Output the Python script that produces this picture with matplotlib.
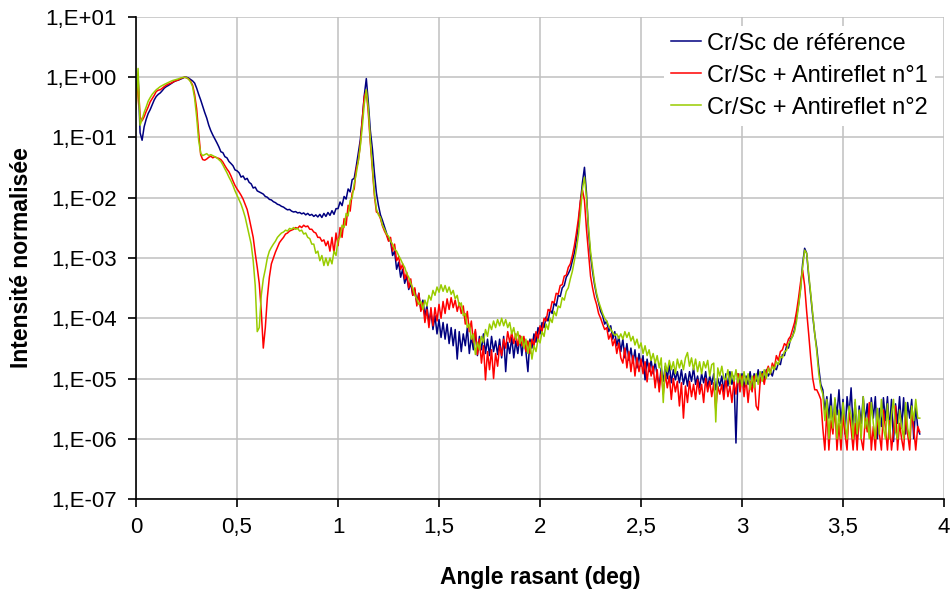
import matplotlib.pyplot as plt
import numpy as np
from matplotlib.ticker import FixedLocator, FuncFormatter, NullLocator

# Scan step of the grazing angle [deg], first point at 0
angle_step = 0.01

# Normalised reflected intensity, one row per 0.1 deg
reference = [
    0.6, 1.1, 0.12, 0.09, 0.15, 0.2, 0.25, 0.29, 0.35, 0.42,
    0.48, 0.52, 0.55, 0.6, 0.66, 0.7, 0.73, 0.77, 0.81, 0.85,
    0.88, 0.9, 0.93, 0.96, 1.0, 1.0, 0.97, 0.92, 0.87, 0.8,
    0.66, 0.52, 0.42, 0.33, 0.26, 0.21, 0.16, 0.13, 0.11, 0.095,
    0.082, 0.07, 0.058, 0.056, 0.048, 0.046, 0.04, 0.037, 0.034, 0.029,
    0.028, 0.026, 0.022, 0.023, 0.02, 0.021, 0.018, 0.017, 0.0145, 0.015,
    0.013, 0.0125, 0.012, 0.0115, 0.0105, 0.0102, 0.0094, 0.0092, 0.0086, 0.0083,
    0.0078, 0.0076, 0.0072, 0.007, 0.0066, 0.0063, 0.0064, 0.006, 0.0058, 0.0059,
    0.0056, 0.0057, 0.0054, 0.0056, 0.0052, 0.0055, 0.0051, 0.0053, 0.0049, 0.0052,
    0.0048, 0.0053, 0.0047, 0.0055, 0.0049, 0.0057, 0.0051, 0.0061, 0.0053, 0.0066,
    0.0066, 0.0085, 0.0074, 0.0105, 0.0095, 0.014, 0.0125, 0.02, 0.021, 0.033,
    0.055, 0.09, 0.2, 0.5, 0.95, 0.38, 0.13, 0.065, 0.026, 0.012,
    0.0075, 0.0052, 0.0042, 0.0033, 0.0026, 0.002, 0.0019, 0.0011, 0.0013, 6.5e-4,
    8.5e-4, 4.8e-4, 6.5e-4, 3.8e-4, 5e-4, 3e-4, 3.8e-4, 2.4e-4, 3e-4, 1.8e-4,
    2.6e-4, 1.4e-4, 2e-4, 1.1e-4, 1.6e-4, 8.5e-5, 1.3e-4, 6.5e-5, 1.1e-4, 5.5e-5,
    9.5e-5, 4.8e-5, 8.5e-5, 4.5e-5, 8e-5, 3.8e-5, 7e-5, 3.5e-5, 6.5e-5, 2.1e-5,
    6e-5, 2.8e-5, 5.5e-5, 3.5e-5, 7e-5, 2.6e-5, 5e-5, 3e-5, 6e-5, 2.4e-5,
    5e-5, 3e-5, 5.5e-5, 2.6e-5, 4.5e-5, 2.4e-5, 5e-5, 2.8e-5, 4.2e-5, 2.5e-5,
    4.5e-5, 2.2e-5, 5e-5, 1.3e-5, 4e-5, 2.6e-5, 4.8e-5, 2.2e-5, 4.2e-5, 2.6e-5,
    5e-5, 2.4e-5, 4.6e-5, 2.8e-5, 1.3e-5, 4.5e-5, 3.2e-5, 5.5e-5, 4e-5, 7e-5,
    5.5e-5, 8.5e-5, 7e-5, 1.05e-4, 9e-5, 1.4e-4, 1.2e-4, 1.8e-4, 1.6e-4, 2.4e-4,
    2.3e-4, 3.2e-4, 3.5e-4, 4.8e-4, 5.5e-4, 6.5e-4, 9e-4, 1.2e-3, 2e-3, 3.5e-3,
    8.5e-3, 0.018, 0.032, 0.012, 2.8e-3, 1.1e-3, 6e-4, 3.6e-4, 2.4e-4, 1.8e-4,
    1.3e-4, 1.1e-4, 8e-5, 9e-5, 6e-5, 7.5e-5, 4.5e-5, 6e-5, 3.5e-5, 5e-5,
    2.8e-5, 4.5e-5, 2.2e-5, 3.8e-5, 2e-5, 3.2e-5, 1.8e-5, 3e-5, 1.5e-5, 2.6e-5,
    1.6e-5, 2.4e-5, 9.5e-6, 2.1e-5, 1.3e-5, 2e-5, 1.2e-5, 1.9e-5, 1.1e-5, 7.5e-6,
    1.5e-5, 9e-6, 1.6e-5, 1e-5, 1.7e-5, 8.5e-6, 1.4e-5, 9.5e-6, 1.3e-5, 8.5e-6,
    1.4e-5, 8e-6, 1.2e-5, 7.5e-6, 1.3e-5, 9e-6, 1.5e-5, 8e-6, 1.1e-5, 7e-6,
    1.2e-5, 8.5e-6, 1.3e-5, 7e-6, 1.1e-5, 8e-6, 1.2e-5, 6.5e-6, 1e-5, 7.5e-6,
    1.1e-5, 6e-6, 1.2e-5, 7.5e-6, 1.3e-5, 8e-6, 1.1e-5, 8.5e-7, 1.2e-5, 8e-6,
    1.2e-5, 7e-6, 1.1e-5, 8e-6, 1.3e-5, 7.5e-6, 1.2e-5, 9e-6, 1.4e-5, 8.5e-6,
    1.3e-5, 9.5e-6, 1.4e-5, 1.1e-5, 1.3e-5, 1.1e-5, 1.5e-5, 1.4e-5, 1.8e-5, 1.7e-5,
    2.5e-5, 2.4e-5, 3.4e-5, 3.2e-5, 4.5e-5, 5e-5, 6.5e-5, 1.05e-4, 1.7e-4, 3.2e-4,
    8e-4, 1.45e-3, 1.2e-3, 5e-4, 2.4e-4, 1.1e-4, 5.5e-5, 3.2e-5, 1.5e-5, 8e-6,
    6.5e-6, 3e-6, 5e-6, 2.2e-6, 5.5e-6, 1.5e-6, 4.5e-6, 2.5e-6, 6.5e-6, 1.8e-6,
    4.5e-6, 1.2e-6, 5e-6, 2.5e-6, 7e-6, 1.6e-6, 4e-6, 9e-7, 3.5e-6, 1.8e-6,
    5e-6, 2e-6, 3.8e-6, 1.2e-6, 4.8e-6, 2.2e-6, 5e-6, 1e-6, 3.2e-6, 1.6e-6,
    4.8e-6, 2e-6, 5e-6, 1.4e-6, 4.5e-6, 9e-7, 3.8e-6, 1.8e-6, 5e-6, 1.5e-6,
    4.8e-6, 1.2e-6, 4e-6, 2.2e-6, 4.5e-6, 1e-6, 3.5e-6, 1.5e-6, 1.2e-6,
]

antireflet_1 = [
    0.3, 0.9, 0.22, 0.19, 0.22, 0.27, 0.32, 0.39, 0.44, 0.5,
    0.58, 0.61, 0.62, 0.66, 0.7, 0.74, 0.77, 0.79, 0.82, 0.86,
    0.88, 0.9, 0.95, 0.98, 1.0, 0.98, 0.94, 0.86, 0.74, 0.52,
    0.3, 0.12, 0.052, 0.043, 0.042, 0.044, 0.047, 0.049, 0.046, 0.048,
    0.046, 0.045, 0.043, 0.039, 0.034, 0.03, 0.027, 0.023, 0.019, 0.016,
    0.014, 0.0125, 0.011, 0.0095, 0.0078, 0.0064, 0.0046, 0.0032, 0.0022, 0.0012,
    7e-4, 3.8e-4, 1.3e-4, 3.2e-5, 7e-5, 2.2e-4, 4.8e-4, 8e-4, 1e-3, 1.25e-3,
    1.5e-3, 1.8e-3, 2e-3, 2.2e-3, 2.5e-3, 2.6e-3, 2.8e-3, 2.9e-3, 3e-3, 3.2e-3,
    3.1e-3, 3.4e-3, 3.2e-3, 3.5e-3, 3.3e-3, 3.4e-3, 3e-3, 3e-3, 2.7e-3, 2.6e-3,
    2.2e-3, 2.2e-3, 1.9e-3, 2e-3, 1.6e-3, 1.9e-3, 1.3e-3, 2.2e-3, 1.2e-3, 2.6e-3,
    1.6e-3, 3.2e-3, 2.2e-3, 4.5e-3, 3.5e-3, 7.5e-3, 6e-3, 0.012, 0.014, 0.03,
    0.04, 0.075, 0.2, 0.48, 0.6, 0.25, 0.08, 0.03, 0.011, 0.0058,
    0.0055, 0.0045, 0.0034, 0.0028, 0.0024, 0.0019, 0.0022, 0.0013, 0.0017, 9e-4,
    1.05e-3, 6.5e-4, 8e-4, 4.5e-4, 5.8e-4, 3.2e-4, 4.5e-4, 2.4e-4, 3.2e-4, 1.6e-4,
    2.6e-4, 1.3e-4, 1.8e-4, 8.5e-5, 1.4e-4, 7e-5, 1.5e-4, 7.5e-5, 1.5e-4, 9e-5,
    1.7e-4, 1e-4, 1.9e-4, 1.2e-4, 2.1e-4, 1.4e-4, 2.2e-4, 1.5e-4, 2e-4, 1.3e-4,
    1.8e-4, 1.2e-4, 1.6e-4, 8e-5, 1.3e-4, 6e-5, 9e-5, 4e-5, 6.5e-5, 2.5e-5,
    4.5e-5, 1.8e-5, 3.5e-5, 9.5e-6, 2.8e-5, 1.4e-5, 3e-5, 1e-5, 2.6e-5, 1.6e-5,
    3.5e-5, 2.4e-5, 4.5e-5, 3.2e-5, 6e-5, 4e-5, 5.8e-5, 3.8e-5, 5.5e-5, 3.5e-5,
    5.2e-5, 3.5e-5, 5e-5, 2.8e-5, 4.2e-5, 2.6e-5, 4.5e-5, 3.5e-5, 6e-5, 4.5e-5,
    7.5e-5, 6e-5, 1e-4, 9e-5, 1.4e-4, 1.3e-4, 1.9e-4, 1.8e-4, 2.6e-4, 2.5e-4,
    3.5e-4, 3.6e-4, 5e-4, 5.2e-4, 7e-4, 8e-4, 1.1e-3, 1.6e-3, 2.6e-3, 4.5e-3,
    9e-3, 0.0135, 9e-3, 3e-3, 1.2e-3, 5e-4, 3.2e-4, 2.2e-4, 1.7e-4, 1.2e-4,
    1e-4, 8e-5, 6.5e-5, 7e-5, 4.5e-5, 5.5e-5, 3.5e-5, 4.5e-5, 2.6e-5, 3.9e-5,
    2.2e-5, 1.8e-5, 3.2e-5, 1.5e-5, 2.8e-5, 1.3e-5, 2.4e-5, 1.1e-5, 2.2e-5, 1.3e-5,
    2.1e-5, 1.2e-5, 1.9e-5, 8.8e-6, 1.8e-5, 1.1e-5, 1.6e-5, 7e-6, 1.4e-5, 6e-6,
    1.3e-5, 5.5e-6, 1.2e-5, 7e-6, 1.1e-5, 4.5e-6, 1e-5, 6e-6, 9e-6, 3.5e-6,
    8.5e-6, 2.2e-6, 7.5e-6, 4e-6, 9e-6, 5e-6, 8e-6, 4.5e-6, 9.5e-6, 5.5e-6,
    8e-6, 4e-6, 1e-5, 6e-6, 9e-6, 5e-6, 8.5e-6, 3e-6, 7.5e-6, 5.5e-6,
    8e-6, 4.5e-6, 1e-5, 5e-6, 7.5e-6, 4e-6, 9e-6, 5.5e-6, 1.2e-5, 6e-6,
    1.1e-5, 5e-6, 1e-5, 4e-6, 9e-6, 6e-6, 1.1e-5, 3.5e-6, 3e-6, 9e-6,
    1.2e-5, 8e-6, 1.3e-5, 1.6e-5, 1.2e-5, 1.8e-5, 1.5e-5, 2.4e-5, 2e-5, 2.8e-5,
    3e-5, 3.8e-5, 3.5e-5, 4.5e-5, 5e-5, 6.5e-5, 8.5e-5, 1.3e-4, 2.2e-4, 4e-4,
    6.3e-4, 3.5e-4, 1.3e-4, 5.5e-5, 2.2e-5, 1e-5, 6.5e-6, 6.5e-6, 5.5e-6, 4.5e-6,
    1.5e-6, 6.5e-7, 3e-6, 6.5e-7, 2e-6, 1.2e-6, 3.5e-6, 6.5e-7, 1.8e-6, 6.5e-7,
    2.5e-6, 1.2e-6, 6.5e-7, 3e-6, 1.5e-6, 6.5e-7, 1.8e-6, 6.5e-7, 2.8e-6, 1e-6,
    6.5e-7, 2.2e-6, 1.3e-6, 4e-6, 6.5e-7, 1.6e-6, 6.5e-7, 2.5e-6, 1.2e-6, 6.5e-7,
    3e-6, 1.5e-6, 6.5e-7, 2e-6, 6.5e-7, 1.3e-6, 3.5e-6, 6.5e-7, 1.8e-6, 1e-6,
    6.5e-7, 2.5e-6, 1.2e-6, 6.5e-7, 3e-6, 1.5e-6, 6.5e-7, 1.6e-6, 1.3e-6,
]

antireflet_2 = [
    0.3, 1.4, 0.16, 0.2, 0.26, 0.32, 0.4, 0.46, 0.52, 0.57,
    0.62, 0.66, 0.7, 0.73, 0.76, 0.79, 0.82, 0.85, 0.88, 0.9,
    0.92, 0.94, 0.97, 0.99, 1.0, 0.98, 0.93, 0.84, 0.7, 0.45,
    0.22, 0.09, 0.055, 0.05, 0.052, 0.054, 0.05, 0.052, 0.05, 0.048,
    0.046, 0.043, 0.04, 0.035, 0.03, 0.026, 0.022, 0.019, 0.016, 0.013,
    0.011, 0.0093, 0.0078, 0.0062, 0.0048, 0.0034, 0.0024, 0.0017, 9e-4, 3.5e-4,
    6e-5, 7e-5, 2.4e-4, 4.5e-4, 6.5e-4, 1e-3, 1.3e-3, 1.5e-3, 1.7e-3, 1.9e-3,
    2.2e-3, 2.4e-3, 2.6e-3, 2.7e-3, 2.9e-3, 2.8e-3, 3.1e-3, 3e-3, 3.2e-3, 3e-3,
    3.1e-3, 2.8e-3, 2.9e-3, 2.5e-3, 2.6e-3, 2.2e-3, 2.1e-3, 1.7e-3, 1.7e-3, 1.2e-3,
    1.3e-3, 9e-4, 1.1e-3, 7.5e-4, 1e-3, 7.5e-4, 1e-3, 8e-4, 1.3e-3, 1.1e-3,
    2e-3, 2.2e-3, 3.5e-3, 3.2e-3, 5.5e-3, 5e-3, 9e-3, 0.01, 0.017, 0.025,
    0.04, 0.07, 0.15, 0.36, 0.62, 0.3, 0.09, 0.032, 0.012, 0.0065,
    0.0052, 0.0047, 0.0035, 0.003, 0.0025, 0.0023, 0.0019, 0.0017, 0.0014, 0.0013,
    1.1e-3, 9.5e-4, 8e-4, 7e-4, 5.5e-4, 4.8e-4, 3.8e-4, 3.2e-4, 2.4e-4, 2.1e-4,
    1.7e-4, 1.9e-4, 1.4e-4, 2e-4, 1.6e-4, 2.4e-4, 2e-4, 2.9e-4, 2.4e-4, 3.3e-4,
    2.7e-4, 3.6e-4, 2.8e-4, 3.5e-4, 2.7e-4, 3.3e-4, 2.5e-4, 2.9e-4, 2.1e-4, 2.4e-4,
    1.6e-4, 1.8e-4, 1.1e-4, 1.2e-4, 7e-5, 8e-5, 4.5e-5, 5.5e-5, 2.5e-5, 4e-5,
    3e-5, 5e-5, 4e-5, 6.5e-5, 5e-5, 8e-5, 6.5e-5, 9e-5, 7e-5, 9.5e-5,
    7.5e-5, 1e-4, 7.5e-5, 9.5e-5, 7e-5, 8.5e-5, 5.5e-5, 7e-5, 4.5e-5, 6e-5,
    3.8e-5, 5e-5, 3.2e-5, 4.5e-5, 2.6e-5, 4e-5, 2.1e-5, 3.5e-5, 2.8e-5, 4.5e-5,
    3.9e-5, 6e-5, 5e-5, 8e-5, 6.5e-5, 1e-4, 8.5e-5, 1.3e-4, 1.1e-4, 1.6e-4,
    1.5e-4, 2.2e-4, 2e-4, 2.8e-4, 3.2e-4, 4.5e-4, 6e-4, 9e-4, 1.4e-3, 2.4e-3,
    5.5e-3, 0.014, 0.022, 0.01, 3.3e-3, 1.3e-3, 7e-4, 4e-4, 2.6e-4, 1.9e-4,
    1.5e-4, 1.2e-4, 1e-4, 9e-5, 7.5e-5, 6.5e-5, 5.8e-5, 5.2e-5, 5.5e-5, 4.6e-5,
    5.5e-5, 4.5e-5, 6e-5, 4.8e-5, 5.8e-5, 4.2e-5, 5e-5, 3.6e-5, 4.5e-5, 3.2e-5,
    3.9e-5, 2.6e-5, 3.5e-5, 2.4e-5, 3e-5, 2e-5, 2.6e-5, 1.8e-5, 2.4e-5, 1.5e-5,
    2.2e-5, 4e-6, 1.8e-5, 1.3e-5, 2e-5, 1.4e-5, 1.9e-5, 1.2e-5, 2.1e-5, 1.5e-5,
    2e-5, 1.4e-5, 2.2e-5, 2.7e-5, 1.6e-5, 2.2e-5, 1.4e-5, 2.1e-5, 1.3e-5, 1.9e-5,
    1.2e-5, 1.9e-5, 1.5e-5, 2e-5, 1.1e-5, 1.7e-5, 1.8e-5, 1.9e-6, 1.5e-5, 1.1e-5,
    1.6e-5, 1e-5, 9.5e-6, 1.4e-5, 8e-6, 1.3e-5, 9e-6, 1.4e-5, 8.5e-6, 1.2e-5,
    7.5e-6, 1.3e-5, 8e-6, 1.2e-5, 6.5e-6, 1.1e-5, 7e-6, 1.2e-5, 8e-6, 1.3e-5,
    9e-6, 1.4e-5, 1e-5, 1.5e-5, 1.2e-5, 1.6e-5, 1.4e-5, 1.9e-5, 1.7e-5, 2.3e-5,
    2.2e-5, 2.8e-5, 2.9e-5, 3.8e-5, 4.2e-5, 5e-5, 6e-5, 9e-5, 1.6e-4, 3e-4,
    7e-4, 1.35e-3, 1.2e-3, 5.5e-4, 2.6e-4, 1.2e-4, 5.5e-5, 2.8e-5, 1.2e-5, 7e-6,
    5.5e-6, 2e-6, 4.5e-6, 1e-6, 3.5e-6, 1.5e-6, 4.8e-6, 1e-6, 3e-6, 1e-6,
    4e-6, 1.8e-6, 1e-6, 3.5e-6, 2.5e-6, 1e-6, 4.5e-6, 1.2e-6, 3e-6, 1e-6,
    5e-6, 1.5e-6, 2.2e-6, 1e-6, 4e-6, 1.8e-6, 1e-6, 3.2e-6, 1.2e-6, 4.5e-6,
    1.5e-6, 1e-6, 3.8e-6, 1e-6, 2.5e-6, 4.5e-6, 1.3e-6, 1e-6, 3e-6, 1.6e-6,
    1e-6, 4e-6, 1.5e-6, 1e-6, 3.5e-6, 2e-6, 4.5e-6, 2.2e-6, 2.2e-6,
]

series_labels = ["Cr/Sc de référence", "Cr/Sc + Antireflet n°1", "Cr/Sc + Antireflet n°2"]
series_colors = ["#000080", "#ff0000", "#99cc00"]

angle = angle_step * np.arange(len(reference))

plt.rcParams['font.family'] = ['Liberation Sans', 'DejaVu Sans']

fig = plt.figure(figsize=(9.5, 5.9), dpi=100)
ax = fig.add_axes([0.1432, 0.1542, 0.8505, 0.817])

for values, label, color in zip([reference, antireflet_1, antireflet_2], series_labels, series_colors):
    ax.plot(angle, values, color=color, lw=1.1, label=label)

ax.set_yscale("log")
ax.set_xlim(0, 4)
ax.set_ylim(1e-7, 10)
ax.yaxis.set_major_locator(FixedLocator(10.0 ** np.arange(-7, 2)))
ax.yaxis.set_minor_locator(NullLocator())
ax.yaxis.set_major_formatter(FuncFormatter(lambda v, pos: f"1,E{int(round(np.log10(v))):+03d}"))
ax.set_xticks(np.arange(0, 4.01, 0.5))
ax.xaxis.set_major_formatter(FuncFormatter(lambda v, pos: f"{v:g}".replace(".", ",")))

ax.grid(color="#c0c0c0", lw=1.1)
ax.set_axisbelow(True)
for side in ["top", "right"]:
    ax.spines[side].set_visible(False)
for side in ["left", "bottom"]:
    ax.spines[side].set_linewidth(1.2)
ax.tick_params(axis="y", length=6, width=1.2, pad=8, labelsize=16)
ax.tick_params(axis="x", length=6, width=1.2, pad=7, labelsize=16)

ax.set_xlabel("Angle rasant (deg)", fontsize=16.5, fontweight="bold", labelpad=20)
ax.set_ylabel("Intensité normalisée", fontsize=16.5, fontweight="bold", labelpad=9)

leg = ax.legend(loc="upper right", bbox_to_anchor=(0.989, 0.982), fontsize=17, frameon=True,
                edgecolor="none", fancybox=False, framealpha=1, handlelength=1.3,
                handletextpad=0.25, labelspacing=0.42, borderpad=0.3, borderaxespad=0)

fig.savefig("out.png", dpi=100)
